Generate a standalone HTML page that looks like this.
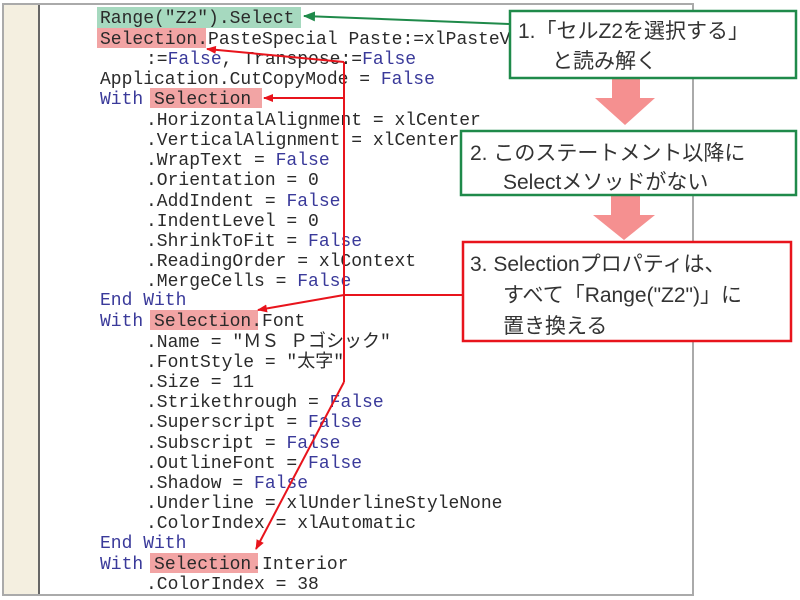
<!DOCTYPE html>
<html><head><meta charset="utf-8"><style>
html,body{margin:0;padding:0;background:#fff;width:800px;height:600px;overflow:hidden}
svg{display:block}
.c{font-family:"Liberation Mono","Noto Sans CJK JP",monospace;font-size:18px;fill:#2a2a2a}
.b{fill:#3a3a9a}
.j{font-family:"Liberation Sans","Noto Sans CJK JP",sans-serif;font-size:21px;fill:#333}
</style></head><body>
<svg width="800" height="600" xmlns="http://www.w3.org/2000/svg">
<defs>
<marker id="ar" markerWidth="10" markerHeight="8" refX="9" refY="4" orient="auto" markerUnits="userSpaceOnUse"><path d="M0,0 L10,4 L0,8 z" fill="#e8141c"/></marker>
<marker id="ag" markerWidth="12" markerHeight="10" refX="11" refY="5" orient="auto" markerUnits="userSpaceOnUse"><path d="M0,0 L12,5 L0,10 z" fill="#1f8a4a"/></marker>
</defs>
<rect x="3" y="4" width="690" height="591" fill="#fff" stroke="#aaa" stroke-width="2"/>
<rect x="4" y="5" width="34" height="589" fill="#f4efe0"/>
<line x1="39" y1="5" x2="39" y2="594" stroke="#666" stroke-width="2"/>
<rect x="97" y="7" width="204" height="21" fill="#a6d9bf"/>
<rect x="97" y="28" width="109" height="20" fill="#f2a4a4"/>
<rect x="150" y="88" width="112" height="20" fill="#f2a4a4"/>
<rect x="150" y="310" width="108" height="20" fill="#f2a4a4"/>
<rect x="150" y="553" width="108" height="20" fill="#f2a4a4"/>
<g class="c">
<text x="100" y="23">Range("Z2").Select</text>
<text x="100" y="44">Selection.PasteSpecial Paste:=xlPasteValues</text>
<text x="146" y="64">:=<tspan class="b">False</tspan>, Transpose:=<tspan class="b">False</tspan></text>
<text x="100" y="84">Application.CutCopyMode = <tspan class="b">False</tspan></text>
<text x="100" y="104"><tspan class="b">With</tspan> Selection</text>
<text x="146" y="125">.HorizontalAlignment = xlCenter</text>
<text x="146" y="145">.VerticalAlignment = xlCenter</text>
<text x="146" y="165">.WrapText = <tspan class="b">False</tspan></text>
<text x="146" y="185">.Orientation = 0</text>
<text x="146" y="206">.AddIndent = <tspan class="b">False</tspan></text>
<text x="146" y="226">.IndentLevel = 0</text>
<text x="146" y="246">.ShrinkToFit = <tspan class="b">False</tspan></text>
<text x="146" y="266">.ReadingOrder = xlContext</text>
<text x="146" y="286">.MergeCells = <tspan class="b">False</tspan></text>
<text x="100" y="305" class="b">End With</text>
<text x="100" y="326"><tspan class="b">With</tspan> Selection.Font</text>
<text x="146" y="347">.Name = "ＭＳ Ｐゴシック"</text>
<text x="146" y="367">.FontStyle = "太字"</text>
<text x="146" y="387">.Size = 11</text>
<text x="146" y="407">.Strikethrough = <tspan class="b">False</tspan></text>
<text x="146" y="427">.Superscript = <tspan class="b">False</tspan></text>
<text x="146" y="448">.Subscript = <tspan class="b">False</tspan></text>
<text x="146" y="468">.OutlineFont = <tspan class="b">False</tspan></text>
<text x="146" y="488">.Shadow = <tspan class="b">False</tspan></text>
<text x="146" y="508">.Underline = xlUnderlineStyleNone</text>
<text x="146" y="528">.ColorIndex = xlAutomatic</text>
<text x="100" y="548" class="b">End With</text>
<text x="100" y="569"><tspan class="b">With</tspan> Selection.Interior</text>
<text x="146" y="589">.ColorIndex = 38</text>
</g>
<g stroke="#e8141c" stroke-width="2" fill="none">
<polyline points="344,62 207,49" marker-end="url(#ar)"/>
<line x1="344" y1="62" x2="344" y2="382"/>
<line x1="344" y1="98" x2="264" y2="98" marker-end="url(#ar)"/>
<line x1="462" y1="295" x2="344" y2="295"/>
<line x1="344" y1="295" x2="258" y2="310" marker-end="url(#ar)"/>
<line x1="344" y1="382" x2="256" y2="549" marker-end="url(#ar)"/>
</g>
<line x1="509" y1="24" x2="304" y2="16" stroke="#1f8a4a" stroke-width="2" marker-end="url(#ag)"/>
<path d="M612,79 L640,79 L640,98 L655,98 L625,125 L595,98 L612,98 z" fill="#f59090"/>
<path d="M611,196 L640,196 L640,215 L655,215 L624,240 L593,215 L611,215 z" fill="#f59090"/>
<rect x="510" y="11" width="286" height="67" fill="#fff" stroke="#1f8a4a" stroke-width="2.5"/>
<text class="j" x="518" y="38">1.「セルZ2を選択する」</text>
<text class="j" x="552" y="68">と読み解く</text>
<rect x="461" y="131" width="335" height="64" fill="#fff" stroke="#1f8a4a" stroke-width="2.5"/>
<text class="j" x="470" y="160">2. このステートメント以降に</text>
<text class="j" x="503" y="189">Selectメソッドがない</text>
<rect x="463" y="242" width="328" height="99" fill="#fff" stroke="#e8141c" stroke-width="2.5"/>
<text class="j" x="470" y="271">3. Selectionプロパティは、</text>
<text class="j" x="503" y="302">すべて「Range("Z2")」に</text>
<text class="j" x="503" y="333">置き換える</text>
</svg>
</body></html>
